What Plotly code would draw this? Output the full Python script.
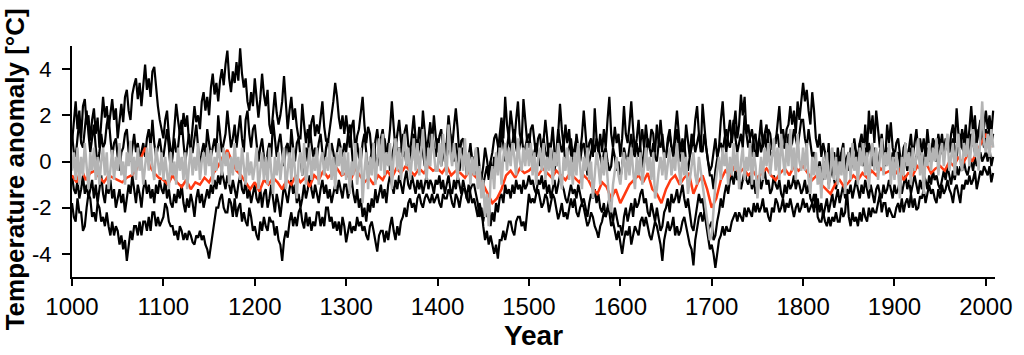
import plotly.graph_objects as go

# Years sampled every 2 years for the reconstructions and the simulation
years = list(range(1000, 2009, 2))
# Multi-reconstruction mean sampled every 5 years
mean_years = list(range(1000, 2010, 5))

recon_a = [
    0.8, 1.9, 2.6, 1.4, 2.2, 1.0, 2.4, 2.7, 1.6, 2.0, 0.9, 1.8, 2.3, 1.2, 1.9, 0.6, 1.7, 2.8, 1.9, 2.4, 1.4, 2.2, 2.7, 1.8, 2.3, 1.0, 1.9, 2.5, 1.7, 2.8, 3.1, 2.2, 1.8, 2.9, 3.3, 3.6, 2.7, 3.4, 2.4, 3.5, 4.2, 3.1, 3.6, 2.8, 3.9, 4.1, 3.2, 2.4, 1.8, 1.4,
    1.0, 1.8, 2.2, 1.1, 0.5, 0.4, 1.6, 2.5, 1.8, 1.2, 1.2, 2.1, 1.5, 2.0, 0.9, 0.6, 1.5, 2.4, 1.7, 2.0, 1.4, 2.6, 3.0, 2.2, 2.8, 2.0, 3.2, 3.8, 2.9, 3.4, 2.6, 3.5, 4.0, 3.3, 4.2, 4.8, 3.6, 3.0, 3.9, 3.4, 4.3, 3.5, 4.9, 3.8, 3.2, 3.6, 2.6, 2.2, 3.0, 2.4,
    3.6, 2.8, 1.9, 2.7, 3.8, 2.9, 2.4, 3.1, 1.6, 1.2, 2.2, 3.0, 2.1, 1.6, 2.0, 2.6, 3.7, 2.4, 1.4, 2.2, 2.8, 1.8, 2.3, 1.5, 1.0, 1.0, 2.5, 1.6, 0.8, 1.4, 0.8, 1.7, 2.0, 1.1, 1.6, 1.2, 2.0, 2.6, 1.5, 0.9, 0.8, 1.4, 1.8, 2.6, 3.4, 2.8, 1.9, 1.4, 2.0, 1.2,
    2.0, 1.2, 0.6, 1.5, 1.8, 0.4, 1.1, 1.4, 2.1, 2.8, 1.6, 0.8, 1.5, 1.2, 0.3, -0.2, 0.9, 1.4, 0.6, 0.2, 0.2, 1.0, 0.4, 0.6, 1.4, 2.6, 1.5, 0.5, 1.2, 1.8, 0.9, 0.2, 1.3, 1.6, 0.7, 0.4, 1.2, 2.0, 1.0, 0.6, 1.5, 0.8, 2.2, 1.3, 0.4, 1.0, 1.7, 0.8, 2.0, 1.1,
    0.4, 1.1, 1.4, 0.5, 0.0, 0.8, 2.0, 1.2, 0.6, 1.5, 2.3, 1.4, 0.2, 0.9, 1.0, 0.3, -0.6, 0.2, 0.8, -0.1, -0.4, 0.5, 0.6, -0.3, -0.8, -0.2, 0.6, 0.1, -0.5, 0.0, -0.6, 0.2, -0.4, 0.4, 1.2, 1.9, 1.0, 2.8, 1.6, 1.0, 2.2, 1.4, 0.8, 1.8, 2.6, 1.2, 0.8, 2.7, 1.6, 0.9,
    0.6, 1.4, 1.6, 0.8, 0.2, 1.0, 1.2, 0.4, 0.9, 1.8, 1.0, -0.2, 0.6, 1.5, 0.4, -0.2, 1.2, 2.5, 1.4, 0.6, 1.6, 0.8, 1.4, 0.3, 0.0, 0.0, 1.2, 0.6, 0.4, 1.1, 2.2, 1.0, 0.2, 0.8, 1.0, 0.2, 2.3, 1.0, 0.4, 1.2, 0.4, 1.4, 0.6, 1.8, 2.8, 1.2, 0.6, 1.5, 0.8, 1.2,
    0.2, 1.0, 2.4, 1.2, 0.8, 1.6, 2.6, 1.4, 0.4, 1.0, 1.8, 0.6, -0.4, 0.5, 1.6, 0.8, 0.6, 1.4, 1.2, 0.2, 0.0, 0.8, 1.8, 0.9, 0.2, 0.2, 1.0, 1.4, 0.6, 0.4, 1.5, 2.2, 1.2, 0.4, 1.0, 0.4, 1.6, 0.8, 0.2, 1.2, 0.8, 1.8, 2.4, 1.2, 0.4, 2.5, 1.4, 0.6, 0.0, -0.4,
    -0.2, 0.4, 1.0, 0.2, 0.6, 1.8, 2.6, 1.4, 0.4, 1.2, 1.8, 0.8, 1.4, 2.2, 1.0, 1.6, 2.9, 2.0, 2.8, 1.2, 1.6, 0.8, 0.2, 1.0, 1.2, 0.2, 1.0, 1.8, 0.6, 1.2, 0.4, 1.4, 1.2, 0.5, 0.8, 0.8, 1.6, 2.4, 1.2, 0.6, 0.6, 1.4, 1.6, 2.4, 1.6, 2.2, 1.2, 2.6, 1.8, 2.8,
    3.4, 2.6, 3.1, 2.2, 1.6, 3.0, 2.2, 1.0, 0.6, 1.2, 0.2, 0.8, 0.4, -0.2, 0.8, -0.6, 0.2, 0.4, -0.4, 0.6, -0.2, 0.4, 0.8, -0.3, 0.2, -0.4, 0.6, 0.2, -0.2, 0.4, 0.0, 0.8, 1.2, 0.4, 1.6, 0.4, 2.2, 1.2, 2.0, 0.8, 2.2, 1.4, 0.6, 1.2, 0.4, 0.2, 1.6, 0.8, 1.7, 0.6,
    0.2, 0.8, 1.0, 0.3, -0.2, 0.6, 0.8, 0.0, 0.6, 1.2, 0.2, 0.8, 1.4, 0.4, 1.0, 0.4, 1.0, 0.2, 1.4, 0.6, 0.2, 1.0, 0.8, 0.4, 1.2, 0.6, 1.2, 0.4, 1.0, 0.6, 0.4, 1.2, 1.6, 0.8, 2.3, 1.2, 0.6, 1.4, 0.8, 1.6, 0.6, 1.4, 2.4, 1.2, 2.0, 0.8, 1.4, 1.8, 0.8, 1.6,
    2.2, 1.4, 2.0, 1.2, 2.2,
]

recon_b = [
    -1.8, -2.4, -2.6, -1.6, -2.2, -2.2, -3.0, -2.8, -2.0, -1.4, -1.6, -2.4, -2.2, -2.6, -1.8, -2.0, -2.6, -2.4, -2.8, -2.2, -2.8, -3.2, -2.6, -3.2, -2.8, -3.0, -3.6, -3.2, -3.8, -3.4, -4.3, -3.6, -3.0, -3.4, -2.8, -2.8, -3.2, -2.6, -3.2, -2.6, -2.6, -3.0, -2.4, -3.0, -2.2, -2.2, -2.8, -2.4, -2.8, -2.6,
    -2.4, -1.8, -2.0, -2.6, -2.8, -2.8, -3.2, -3.0, -3.4, -2.8, -3.0, -3.4, -3.1, -3.4, -3.0, -3.2, -3.5, -3.6, -3.2, -3.3, -3.0, -3.4, -3.2, -3.6, -3.8, -4.2, -3.6, -3.2, -2.6, -2.0, -2.0, -1.6, -1.4, -2.0, -2.2, -2.2, -1.6, -1.8, -2.4, -1.6, -2.4, -2.0, -1.8, -2.6, -2.2, -2.6, -2.8, -2.0, -2.4, -3.0,
    -2.8, -3.2, -3.4, -2.6, -3.0, -2.4, -2.8, -3.0, -2.4, -2.6, -2.6, -3.2, -2.8, -3.4, -3.6, -4.3, -3.4, -3.0, -3.3, -2.6, -2.2, -2.8, -2.4, -2.8, -2.2, -2.0, -2.6, -2.9, -2.2, -2.8, -2.4, -3.0, -2.6, -2.8, -2.2, -2.2, -2.8, -2.4, -2.8, -2.0, -2.0, -2.6, -2.4, -2.9, -2.6, -3.0, -2.6, -3.2, -2.4, -2.8,
    -3.5, -3.0, -2.6, -3.1, -2.8, -3.0, -2.4, -2.8, -2.6, -3.0, -2.8, -3.2, -3.4, -2.8, -2.6, -3.0, -3.4, -3.9, -3.2, -3.0, -3.0, -3.5, -3.0, -3.4, -2.8, -2.4, -3.0, -3.4, -2.8, -3.2, -2.6, -2.4, -2.0, -2.4, -1.8, -1.6, -2.0, -1.8, -2.2, -1.6, -1.4, -1.8, -2.0, -1.6, -1.4, -1.6, -1.8, -1.4, -1.8, -1.6,
    -1.4, -1.8, -2.0, -1.4, -1.6, -1.6, -1.2, -1.4, -1.8, -2.0, -1.4, -1.6, -2.0, -1.5, -1.2, -1.2, -1.6, -1.8, -1.2, -1.0, -1.0, -1.4, -1.8, -2.4, -2.0, -2.8, -3.4, -3.0, -3.6, -3.2, -3.6, -4.0, -3.6, -4.2, -3.4, -3.4, -3.0, -3.4, -3.0, -2.6, -2.6, -3.0, -3.2, -2.6, -2.4, -2.4, -2.8, -2.6, -3.0, -2.2,
    -1.4, -1.8, -1.6, -1.8, -1.4, -1.2, -1.6, -2.0, -1.8, -1.4, -1.6, -2.2, -1.8, -1.4, -1.6, -2.0, -2.5, -2.2, -1.8, -2.4, -2.2, -2.5, -2.0, -1.6, -2.0, -1.6, -2.2, -2.4, -2.0, -1.8, -2.0, -2.4, -2.8, -2.6, -2.2, -2.4, -2.8, -3.0, -3.3, -2.8, -2.6, -2.2, -2.4, -2.0, -2.2, -2.8, -2.6, -3.0, -3.4, -3.0,
    -3.6, -4.0, -3.4, -3.0, -3.2, -2.8, -3.6, -3.2, -2.8, -3.0, -3.2, -2.6, -2.4, -2.8, -2.4, -2.8, -3.2, -3.4, -3.0, -2.6, -2.8, -3.2, -3.6, -4.3, -3.4, -3.0, -2.6, -3.0, -2.8, -2.4, -3.2, -2.8, -3.2, -3.0, -2.6, -2.4, -2.8, -3.2, -3.6, -3.8, -4.5, -3.4, -2.8, -2.4, -2.2, -2.6, -2.2, -2.8, -3.4, -3.8,
    -3.6, -4.0, -4.6, -4.0, -3.4, -3.2, -2.8, -3.2, -2.8, -3.0, -3.0, -2.6, -2.4, -2.2, -2.6, -2.2, -2.4, -2.6, -2.0, -2.4, -2.0, -2.2, -2.4, -1.8, -2.2, -1.8, -2.2, -2.0, -1.6, -2.2, -2.0, -2.4, -2.6, -2.0, -2.2, -1.6, -1.8, -2.2, -2.0, -1.6, -2.2, -1.8, -2.0, -1.6, -2.0, -2.4, -2.0, -1.8, -2.2, -2.0,
    -1.6, -2.0, -1.8, -2.2, -2.0, -1.8, -2.2, -1.4, -2.4, -2.6, -2.6, -2.2, -2.6, -2.8, -2.4, -2.8, -2.4, -2.6, -2.2, -2.6, -2.6, -2.0, -2.4, -2.2, -1.2, -2.4, -2.8, -2.2, -2.6, -2.4, -2.8, -2.2, -2.6, -2.0, -2.4, -2.6, -2.0, -2.4, -2.0, -2.2, -2.2, -1.8, -1.4, -2.2, -1.8, -1.8, -2.4, -2.0, -2.2, -2.4,
    -2.4, -2.0, -1.8, -2.2, -1.6, -2.2, -1.8, -1.6, -2.0, -1.4, -2.0, -1.6, -2.1, -2.0, -1.5, -1.6, -1.2, -1.8, -1.4, -1.0, -1.4, -1.2, -1.6, -1.8, -1.2, -1.6, -1.0, -1.4, -1.2, -0.8, -1.2, -1.4, -1.8, -1.2, -1.0, -1.4, -1.8, -1.0, -1.2, -0.8, -1.0, -0.6, -1.0, -0.8, -0.4, -1.2, -0.8, -0.4, -0.6, -0.2,
    -0.4, -0.6, -0.2, -0.9, -0.5,
]

recon_c = [
    -0.6, -1.2, -1.4, -0.8, -1.6, -1.2, -0.6, -1.4, -1.0, -1.6, -1.2, -0.8, -1.6, -1.0, -1.8, -1.2, -0.6, -1.4, -1.8, -1.0, -1.4, -0.8, -1.6, -1.2, -2.0, -1.6, -1.2, -1.8, -1.4, -2.2, -1.6, -1.0, -1.4, -0.6, -1.2, -1.8, -1.0, -1.4, -2.0, -1.2, -0.8, -1.4, -1.0, -1.6, -1.2, -1.8, -1.0, -1.4, -0.8, -1.2,
    -1.4, -0.8, -1.6, -1.2, -1.8, -2.0, -1.4, -1.8, -1.2, -1.6, -1.0, -1.8, -2.2, -1.6, -2.0, -1.4, -1.8, -2.4, -1.6, -1.2, -1.8, -1.4, -2.0, -1.6, -1.2, -1.6, -1.0, -1.4, -0.8, -1.2, -0.6, -1.0, -0.4, -0.8, -1.2, -0.6, -1.0, -1.4, -0.8, -1.2, -1.6, -1.0, -0.6, -1.2, -1.4, -0.8, -1.6, -1.2, -1.8, -1.4,
    -1.0, -1.6, -1.8, -1.2, -2.0, -1.4, -1.2, -2.0, -1.6, -1.0, -1.6, -2.2, -1.4, -1.8, -2.4, -1.6, -1.0, -1.4, -1.8, -1.2, -0.8, -1.4, -1.0, -1.8, -1.4, -2.0, -1.6, -1.0, -1.6, -1.2, -0.6, -1.2, -1.6, -1.0, -1.4, -1.8, -1.2, -0.8, -1.4, -1.0, -1.6, -1.2, -1.8, -1.4, -1.0, -1.4, -0.8, -1.2, -1.6, -1.0,
    -1.0, -1.6, -1.2, -0.8, -1.4, -1.8, -1.2, -2.0, -1.6, -2.4, -2.0, -2.6, -1.8, -2.2, -1.6, -2.0, -1.2, -1.8, -1.4, -1.0, -1.6, -1.2, -1.8, -1.0, -0.6, -1.0, -1.4, -0.8, -1.2, -0.6, -1.0, -1.4, -0.8, -0.4, -1.0, -1.2, -0.6, -1.0, -1.4, -0.8, -1.2, -0.8, -1.4, -1.0, -0.6, -1.2, -0.8, -1.0, -1.4, -0.8,
    -1.0, -0.6, -1.2, -0.8, -1.4, -1.0, -0.6, -1.2, -1.4, -0.8, -1.2, -0.6, -1.0, -1.4, -0.8, -1.2, -1.6, -1.0, -1.4, -1.8, -1.6, -2.0, -2.4, -1.8, -2.2, -2.6, -2.0, -2.4, -1.8, -2.8, -2.2, -2.6, -1.8, -2.2, -1.6, -1.4, -1.8, -1.0, -1.4, -1.2, -1.6, -1.0, -1.4, -0.8, -1.2, -1.0, -1.4, -0.8, -1.2, -1.0,
    -0.6, -1.0, -0.8, -1.2, -1.4, -0.8, -1.0, -0.6, -1.2, -0.8, -1.4, -1.0, -1.6, -1.2, -0.8, -1.4, -1.0, -0.6, -1.0, -1.2, -1.6, -1.8, -1.4, -1.0, -1.4, -1.2, -1.6, -1.0, -1.4, -1.8, -1.6, -2.0, -2.4, -1.8, -1.4, -1.6, -1.2, -1.8, -1.4, -2.0, -2.2, -1.8, -2.4, -2.0, -1.6, -2.2, -2.6, -2.0, -2.4, -2.8,
    -2.8, -3.2, -2.4, -2.0, -2.6, -2.2, -1.8, -2.4, -1.6, -2.0, -1.8, -1.4, -1.2, -1.8, -1.6, -2.2, -2.4, -1.8, -2.2, -2.6, -2.0, -2.6, -3.0, -2.8, -2.2, -2.0, -1.6, -2.2, -1.4, -1.8, -1.6, -1.2, -1.8, -1.4, -1.0, -1.6, -2.0, -1.6, -2.2, -2.8, -3.0, -2.4, -1.8, -1.4, -1.8, -1.6, -2.2, -2.6, -3.0, -2.8,
    -2.6, -3.4, -3.2, -2.6, -2.2, -1.6, -2.0, -1.4, -1.0, -1.4, -0.8, -0.6, -1.0, -0.4, -0.8, -0.6, -1.2, -0.8, -0.4, -0.8, -1.0, -0.6, -1.2, -0.8, -1.4, -1.0, -0.6, -1.2, -0.8, -0.4, -1.0, -0.8, -1.4, -1.2, -0.6, -1.0, -1.2, -0.8, -1.4, -1.6, -1.0, -1.4, -0.8, -1.2, -1.0, -0.6, -1.2, -0.8, -1.0, -1.4,
    -1.2, -0.8, -1.4, -1.0, -1.6, -1.8, -1.4, -2.0, -1.6, -2.2, -1.8, -2.4, -2.0, -1.6, -2.2, -1.8, -1.4, -2.0, -1.6, -1.2, -1.8, -1.4, -1.0, -1.6, -1.2, -1.4, -1.0, -1.6, -1.2, -0.8, -1.2, -1.6, -1.0, -1.4, -0.8, -1.2, -1.6, -1.0, -1.4, -1.8, -1.2, -1.0, -1.4, -1.6, -1.0, -1.4, -1.2, -0.8, -1.2, -1.6,
    -1.0, -1.4, -1.2, -0.8, -1.4, -1.0, -0.6, -1.2, -0.8, -1.4, -1.0, -0.6, -1.0, -1.4, -0.8, -1.2, -0.6, -0.8, -1.2, -0.6, -1.0, -0.4, -0.8, -0.6, -1.0, -1.2, -0.8, -0.4, -0.8, -0.2, -0.6, -1.0, -0.4, -0.8, -0.2, -0.6, -0.2, -0.4, 0.0, -0.4, -0.6, -0.2, 0.0, -0.4, 0.2, -0.2, 0.0, 0.4, 0.0, 0.2,
    0.4, 0.0, 0.6, -0.2, 0.2,
]

recon_d = [
    1.2, 0.4, 0.2, 1.0, 1.8, 0.8, 0.6, 1.4, 2.2, 1.2, 0.4, 1.0, 1.6, 0.6, -0.2, 0.4, 1.2, 0.6, 0.8, 1.6, 2.0, 1.0, 0.2, 0.8, 1.0, 0.2, -0.4, 0.4, 0.6, 1.2, 1.4, 0.4, 0.0, 0.6, 1.2, 0.4, 0.8, 0.2, 0.4, 0.8, 0.2, 1.0, 1.4, 0.6, 1.8, 0.8, 0.2, 0.6, 1.0, 0.4,
    0.2, 0.8, 1.4, 0.6, -0.4, 0.2, 1.0, 0.4, 0.6, 1.4, 1.8, 0.8, 0.0, 0.6, 1.2, 0.4, 0.4, 1.0, 1.6, 0.6, -0.2, 0.4, 0.8, 0.2, 1.4, 0.8, 0.2, 0.6, 1.0, 0.4, 2.0, 1.2, 0.4, 0.8, 1.2, 2.2, 1.4, 0.6, 1.0, 1.6, 0.6, 1.2, 2.0, 1.0, 0.4, 1.8, 2.2, 1.2, 0.6, 1.4,
    1.6, 0.8, 0.0, 0.6, 1.0, 0.2, -0.4, 0.4, 0.8, 0.2, 1.8, 1.0, 0.2, 0.8, 1.2, 0.4, -0.2, 0.6, 0.8, 0.0, 1.4, 0.6, 0.0, 0.8, 1.0, 0.2, -0.6, 0.2, 0.6, 0.0, 1.6, 0.8, 0.2, 0.6, 0.2, 0.8, 1.2, 0.4, -0.2, 0.6, 1.0, 0.2, 0.8, 0.4, -0.2, 0.4, 1.0, 0.6, 0.2, 0.8,
    0.4, 1.2, 1.6, 0.6, -0.4, 0.2, 0.8, 0.2, 0.0, 0.8, 1.2, 0.4, -0.6, 0.0, 0.4, 0.8, 0.2, -0.2, 0.6, 1.0, 1.4, 0.6, 0.2, 0.8, -0.4, 0.2, 0.6, 1.0, 0.2, 0.6, 0.4, 1.2, 0.6, -0.2, 0.4, 0.6, 0.0, 1.2, 0.8, 0.2, 0.6, 1.0, 0.4, -0.2, 0.6, 0.2, 0.8, 1.4, 0.6, 0.2,
    1.0, 0.4, -0.2, 0.6, 0.8, 0.2, 0.6, 1.2, 0.4, 0.0, 0.8, 0.2, -0.4, 0.2, 0.6, 0.4, -0.2, 0.2, 0.6, 0.0, 0.2, -0.4, -0.8, -0.4, -1.4, -1.0, -0.6, -0.2, -0.8, 0.0, 0.4, 1.0, 1.2, 0.6, 0.2, 1.4, 0.8, 0.0, 0.6, 1.2, 0.4, 0.8, 1.4, 0.6, 0.2, 0.8, 1.2, 0.4, 0.6, 1.0,
    1.2, 0.6, 0.0, 0.4, 0.8, 0.2, -0.2, 0.6, 1.0, 0.4, 0.2, 0.8, 0.6, 0.0, -0.4, 0.4, 1.4, 0.8, 0.4, 0.8, -0.2, 0.4, 0.6, 1.0, 0.2, 0.6, 1.0, 0.4, 0.0, 0.6, 0.8, 0.2, -0.6, 0.0, 0.4, 0.8, 0.4, 1.0, 0.6, 0.2, -0.2, 0.4, 0.6, 0.0, -0.4, -0.2, 0.6, 0.2, -0.4, 0.0,
    -0.8, -0.2, 0.6, 0.2, 0.0, 0.6, 1.2, 0.4, 0.2, 0.8, 0.2, 0.8, 1.4, 0.6, 0.2, 1.0, 0.6, 0.2, 0.8, 0.4, 1.6, 0.8, 0.6, 1.2, 0.4, 0.2, 0.8, 1.2, 0.6, 0.2, 0.8, 1.4, 0.6, 0.0, 0.4, 0.8, 0.0, -0.4, 0.2, 0.6, 1.0, 0.4, 0.8, 1.2, 0.6, 0.4, 1.2, 0.6, -0.2, -0.6,
    -0.6, -1.2, -0.4, 0.2, 0.6, 0.8, 0.4, 1.0, 1.4, 0.8, 0.6, 1.2, 1.8, 1.0, 0.4, 0.8, 1.2, 0.6, 2.0, 1.2, 0.6, 1.0, 1.4, 0.8, 0.2, 0.6, 1.0, 0.4, 0.8, 1.2, 1.6, 0.8, 0.4, 0.2, 0.6, 1.0, 1.2, 0.6, 0.8, 1.4, 0.8, 0.4, 1.2, 0.6, 0.8, 1.4, 1.0, 0.6, 1.2, 1.8,
    1.8, 1.0, 0.6, 1.4, 0.8, 0.2, 0.4, -0.2, -0.6, 0.0, -0.4, -0.8, 0.0, -0.4, -1.0, -0.6, -0.2, -0.8, -1.2, -0.6, -0.2, 0.4, -0.2, -0.6, 0.2, 0.4, -0.4, 0.0, 1.0, 0.4, 0.2, 0.8, 0.4, -0.2, 0.6, 0.2, 0.8, 0.4, -0.2, 0.6, 0.0, -0.4, 0.4, 0.8, 0.2, -0.2, 0.6, 0.2, -0.4, 0.4,
    -0.4, 0.2, 0.4, -0.2, -0.6, 0.0, 0.2, -0.4, 0.2, 0.6, 0.0, -0.4, 0.2, 0.6, 0.0, 0.4, -0.2, 0.2, 0.6, 0.0, 0.4, 0.8, 0.2, 0.0, 0.4, 0.8, 0.4, 0.2, 0.6, 1.0, 0.4, 0.6, 1.0, 0.6, 0.2, 0.8, 1.2, 0.6, 0.4, 1.0, 0.8, 0.4, 1.2, 0.8, 0.4, 1.0, 1.4, 0.8, 1.2, 0.6,
    1.4, 1.0, 1.6, 0.8, 1.2,
]

mean_red = [
    -0.6, -0.9, -0.3, -0.8, -0.5, -0.4, -0.7, -0.9, -0.6, -0.7, -0.8, -0.9, -0.7, -0.6, -0.4, 0.1, 0.6, -0.2, -0.5, -0.7,
    -0.8, -1.0, -0.6, -0.9, -1.1, -0.8, -1.2, -0.9, -1.0, -0.7, -0.9, -0.5, -0.2, 0.2, 0.5, 0.0, -0.4, -0.6, -0.9, -1.2,
    -0.9, -1.3, -0.8, -1.0, -0.7, -0.9, -1.2, -0.8, -1.0, -0.6, -0.9, -0.7, -1.1, -0.6, -0.8, -0.4, -0.7, -0.5, -0.3, -0.6,
    -0.5, -0.8, -0.3, -0.6, -0.9, -0.7, -1.0, -0.6, -0.8, -0.4, -0.7, -0.3, -0.5, -0.2, -0.4, -0.6, -0.3, -0.5, -0.2, -0.4,
    -0.3, -0.5, -0.2, -0.6, -0.4, -0.5, -0.7, -0.4, -0.6, -0.8, -1.0, -1.4, -1.8, -1.6, -1.2, -0.6, -0.4, -0.7, -0.3, -0.5,
    -0.4, -0.2, -0.6, -0.3, -0.5, -0.7, -0.4, -0.6, -0.8, -0.5, -0.7, -0.9, -0.6, -0.8, -1.2, -1.4, -0.9, -1.1, -1.6, -1.2,
    -1.8, -1.4, -1.0, -0.8, -0.6, -0.9, -0.5, -1.2, -1.4, -1.8, -1.2, -0.8, -0.6, -1.0, -0.7, -0.5, -1.4, -0.9, -0.6, -1.2,
    -2.0, -1.6, -0.8, -0.4, -0.6, -0.2, -0.5, -0.3, -0.6, -0.4, -0.7, -0.5, -0.3, -0.6, -0.8, -0.5, -0.3, -0.6, -0.2, -0.4,
    -0.2, -0.5, -0.8, -0.6, -1.0, -1.2, -1.4, -1.0, -0.8, -1.1, -0.9, -0.6, -0.8, -0.5, -0.7, -0.4, -0.6, -0.3, -0.5, -0.4,
    -0.6, -0.3, -0.8, -0.5, -0.6, -0.2, -0.4, -0.1, -0.5, -0.3, -0.2, -0.4, 0.0, -0.2, 0.2, -0.1, 0.3, 0.0, 0.4, 0.8,
    1.2, 0.6,
]

sim_grey = [
    -0.4, 0.4, -0.8, 0.6, -1.0, 0.2, -0.6, 0.8, -0.2, -1.2, 0.4, -0.4, 0.6, -0.8, 0.2, -1.0, 0.0, 0.6, -0.6, 0.4, -1.2, -0.2, 0.5, -0.8, 0.2, -0.4, 0.8, -0.6, 0.0, -1.0, 0.4, -0.2, 0.9, -0.6, 0.2, -0.8, 0.6, -0.4, 0.2, -1.0, 0.0, 0.6, -0.4, 0.8, -0.2, -0.8, 0.6, 0.0, -0.6, 0.4,
    -0.8, 0.2, -0.4, -1.2, 0.4, -0.6, 0.0, -1.0, 0.6, -0.4, 0.2, -0.8, 0.4, -1.2, -0.2, 0.6, -0.6, 0.2, -0.4, 0.8, -0.8, 0.0, 0.4, -0.6, 0.6, -0.2, 0.5, -1.0, 0.2, -0.4, 0.8, 0.0, -0.6, 0.6, -0.2, 0.4, -1.0, 0.2, -0.6, 0.8, -0.4, 0.2, -0.8, 0.6, -0.2, -1.0, 0.4, -0.6, 0.0, -0.8,
    -0.2, 0.6, -1.2, -0.4, 0.4, -0.8, 0.2, -1.0, 0.6, -0.4, -1.4, 0.2, -0.6, 0.4, -0.8, 0.0, 0.6, -1.2, -0.2, 0.4, -0.8, 0.6, -0.4, -1.6, 0.0, 0.4, -0.6, 0.8, -1.0, -0.2, 0.6, -0.8, 0.2, -0.4, 0.6, -1.0, 0.0, 0.4, -0.6, 0.2, -0.4, 0.8, -0.8, 0.2, -1.2, 0.4, -0.2, 0.6, -0.6, 0.4,
    -0.8, 0.4, -1.4, 0.0, -0.6, 0.8, -1.0, -0.2, 0.6, -1.8, -0.4, 0.4, -1.2, 0.2, -0.6, 0.8, -1.0, 0.0, 1.0, -0.4, 1.2, -0.6, 0.4, -0.2, 0.8, -1.2, 0.2, 1.0, -0.4, 0.6, -0.8, 0.4, 1.2, -0.2, 0.6, -0.8, 0.2, 1.0, -0.4, 0.8, -0.6, 0.4, 1.4, 0.0, -0.8, 0.6, -0.2, 1.2, 0.2, -0.4,
    -0.4, 0.8, -0.2, 1.2, 0.2, -0.6, 1.6, 0.4, -0.2, 0.8, 0.0, -0.8, 0.6, 0.2, -0.4, 1.0, -0.6, 0.4, -1.0, 0.2, -0.6, 0.6, -1.2, -0.2, -1.6, -0.8, -2.4, -1.4, -2.8, -0.8, -0.2, -1.2, 0.4, -0.6, 0.6, -1.0, 0.2, 0.8, -0.4, 0.6, -0.2, 0.8, 0.2, -0.6, 1.0, 0.0, -0.4, 0.6, -0.2, 0.8,
    -0.2, 0.8, -0.6, 0.4, -1.0, 0.2, 0.6, -0.4, 0.8, -0.8, 0.2, -0.4, 0.6, -1.0, 0.4, -0.2, 0.8, -0.6, -1.2, 0.2, -0.4, 0.6, -0.8, 0.2, -1.0, 0.4, -0.6, 0.8, -0.2, -1.2, 0.2, -0.4, 0.6, -0.8, 0.0, -1.6, -0.6, 0.4, -0.2, -1.0, 0.2, -0.6, 0.4, -0.8, -1.8, -2.2, -1.0, -0.4, 0.2, -0.6,
    -1.0, -0.2, 0.4, -0.8, 0.2, -0.6, 0.6, -0.4, -1.2, 0.2, -0.6, 0.4, -1.0, -0.2, 0.6, -0.4, 0.2, -0.8, 0.4, -1.6, -1.2, -0.4, 0.2, -0.6, 0.4, -0.8, 0.0, 0.6, -0.6, 0.2, -0.4, 0.8, -0.2, -1.0, 0.4, -0.6, 0.2, -1.4, -0.8, -0.2, 0.4, -0.6, -1.0, 0.2, -0.4, -1.2, -1.8, -2.4, -3.0, -3.4,
    -3.2, -2.0, -1.0, -0.4, 0.2, -0.8, 0.6, -0.2, 0.4, -1.0, 0.2, -0.6, 0.8, -0.4, 0.4, -1.2, 0.0, 0.6, -0.8, 0.2, -0.4, 0.8, -1.0, 0.4, -0.2, -1.6, -0.6, 0.2, -0.8, 0.6, -0.2, 0.8, -0.6, 0.2, 1.0, -0.4, 0.6, -0.8, 1.2, 0.2, -0.6, 0.8, -0.2, 1.4, -0.4, 0.6, -0.8, 1.2, 0.0, -0.4,
    0.6, -0.4, 0.8, -0.8, -1.4, 0.2, -0.6, 0.4, -1.0, -0.2, -1.6, 0.2, -0.8, 0.4, -1.2, -0.4, 0.6, -0.8, 0.2, -1.0, 0.0, -0.6, 0.6, -1.4, -0.2, 0.4, -0.8, 0.8, -0.4, 0.2, -1.0, 0.6, -0.2, 0.8, -0.6, 0.4, -1.2, 0.2, 0.8, -0.4, 0.6, -0.8, 0.2, 1.0, -0.6, 0.4, -0.2, 0.8, -1.0, 0.2,
    -0.8, 0.4, -0.4, -1.6, 0.2, -0.6, 0.8, -0.2, 0.4, -1.0, 0.6, -0.4, 0.2, 1.0, -0.6, 0.4, -1.4, 0.2, -0.2, 0.8, -0.4, 0.6, 0.0, 1.0, -0.6, 0.4, 0.8, -0.2, 0.6, 1.2, -0.4, 0.2, 0.8, -0.6, 0.6, 1.2, 0.0, -0.4, 0.8, 0.2, 1.0, -0.2, 0.6, 1.4, 0.2, 0.8, -0.4, 1.0, 2.6, 0.8,
    0.4, 1.2, 0.2, 1.4, 0.6,
]

x_ticks = [1000, 1100, 1200, 1300, 1400, 1500, 1600, 1700, 1800, 1900, 2000]
y_ticks = [-4, -2, 0, 2, 4]

fig = go.Figure()
for name, vals in [("Reconstruction A", recon_a), ("Reconstruction B", recon_b),
                   ("Reconstruction C", recon_c), ("Reconstruction D", recon_d)]:
    fig.add_trace(go.Scatter(x=years, y=vals, mode="lines", name=name,
                             line=dict(color="#000000", width=2.2)))
fig.add_trace(go.Scatter(x=mean_years, y=mean_red, mode="lines", name="Mean",
                         line=dict(color="#ff3a12", width=2.5)))
fig.add_trace(go.Scatter(x=years, y=sim_grey, mode="lines", name="Simulation",
                         line=dict(color="#b4b4b4", width=2.5)))

font_family = "Liberation Sans, Arial, sans-serif"
fig.update_layout(
    width=1024, height=355,
    margin=dict(l=72, r=29, t=46, b=78),
    paper_bgcolor="white", plot_bgcolor="white",
    showlegend=False,
    font=dict(family=font_family, color="black"),
    xaxis=dict(
        range=[1000, 2010], tickvals=x_ticks, ticktext=[str(v) for v in x_ticks],
        showgrid=False, zeroline=False, showline=True, linecolor="black", linewidth=2,
        ticks="outside", ticklen=7, tickwidth=2, tickcolor="black",
        tickfont=dict(size=24, family=font_family), automargin=False,
        title=dict(text="<b>Year</b>", font=dict(size=28, family=font_family), standoff=1),
    ),
    yaxis=dict(
        range=[-5, 5], tickvals=y_ticks, ticktext=[str(v) for v in y_ticks],
        showgrid=False, zeroline=False, showline=True, linecolor="black", linewidth=2,
        ticks="outside", ticklen=8, tickwidth=2, tickcolor="black",
        tickfont=dict(size=22, family=font_family), ticklabelstandoff=6, automargin=False,
    ),
    annotations=[dict(
        text="<b>Temperature anomaly [°C]</b>", textangle=-90,
        xref="paper", yref="paper", x=-0.062, y=0.465,
        xanchor="center", yanchor="middle", showarrow=False,
        font=dict(size=26, family=font_family, color="black"),
    )],
)

fig.write_html("out.html", config={"displayModeBar": False},
               post_script="document.body.style.margin='0';document.body.style.padding='0';")
